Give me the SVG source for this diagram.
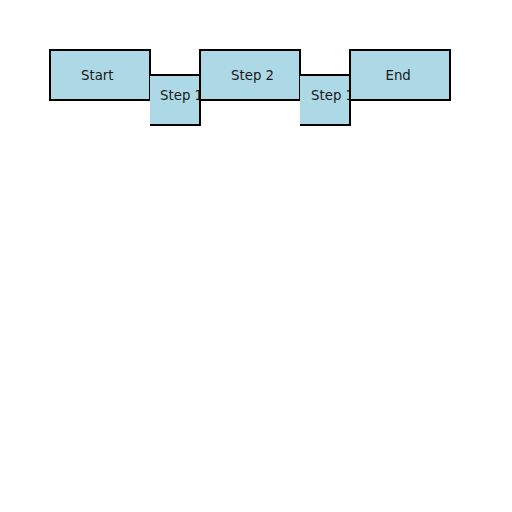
<svg xmlns="http://www.w3.org/2000/svg" width="512" height="512" viewBox="0 0 512 512">
<style>
.box{fill:#ADD8E6;stroke:#000;stroke-width:2}
.fill{fill:#ADD8E6;stroke:none}
.edge{fill:none;stroke:#000;stroke-width:2}
.lbl{font-family:"DejaVu Sans",sans-serif;font-size:13.33px;fill:#1a1a1a}
</style>
<defs>
<clipPath id="c1"><rect x="150" y="75" width="50" height="50"/></clipPath>
<clipPath id="c2"><rect x="300" y="75" width="50" height="50"/></clipPath>
</defs>
<rect width="512" height="512" fill="#fff"/>
<g id="connectors"></g>
<g id="start">
<rect class="box" x="50" y="50" width="100" height="50"/>
<text class="lbl" x="81" y="80">Start</text>
</g>
<g id="step1a">
<rect class="fill" x="150" y="75" width="50" height="50"/>
<path class="edge" d="M150,75 H200 V125 H150"/>
<text class="lbl" x="160" y="100" clip-path="url(#c1)">Step 1</text>
</g>
<g id="step2">
<rect class="box" x="200" y="50" width="100" height="50"/>
<text class="lbl" x="231" y="80">Step 2</text>
</g>
<g id="step1b">
<rect class="fill" x="300" y="75" width="50" height="50"/>
<path class="edge" d="M300,75 H350 V125 H300"/>
<text class="lbl" x="311" y="100" clip-path="url(#c2)">Step 1</text>
</g>
<g id="end">
<rect class="box" x="350" y="50" width="100" height="50"/>
<text class="lbl" x="385.5" y="80">End</text>
</g>
</svg>
